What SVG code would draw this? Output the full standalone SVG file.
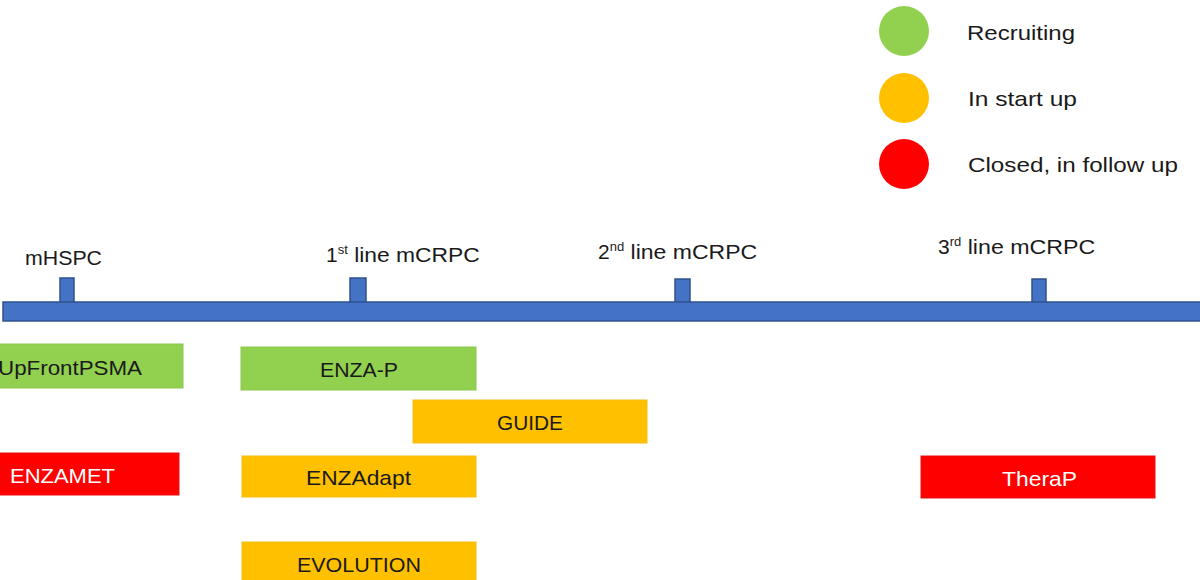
<svg xmlns="http://www.w3.org/2000/svg" width="1200" height="580" viewBox="0 0 1200 580">
<style>
text{font-family:"Liberation Sans","DejaVu Sans",sans-serif;fill:#1a1a1a}
.lbl{font-size:21px}
.leg{font-size:21px}
.box{font-size:21px;text-anchor:middle}
.w{fill:#ffffff}
.g{fill:#92D050;stroke:#8cc84b;stroke-width:1}
.o{fill:#FFC000;stroke:#f5bb10;stroke-width:1}
.r{fill:#FF0000;stroke:#e81010;stroke-width:1}
.ax{fill:#4472C4;stroke:#2F528F;stroke-width:1.5}
</style>
<rect width="1200" height="580" fill="#ffffff"/>
<g id="legend">
<circle cx="904" cy="31" r="25" fill="#92D050"/>
<text class="leg" x="967" y="40" textLength="108" lengthAdjust="spacingAndGlyphs">Recruiting</text>
<circle cx="904" cy="98" r="25" fill="#FFC000"/>
<text class="leg" x="968" y="106" textLength="109" lengthAdjust="spacingAndGlyphs">In start up</text>
<circle cx="904" cy="164" r="25" fill="#FF0000"/>
<text class="leg" x="968" y="172" textLength="210" lengthAdjust="spacingAndGlyphs">Closed, in follow up</text>
</g>
<g id="timeline">
<rect class="ax" x="60" y="278" width="14" height="26"/>
<rect class="ax" x="350" y="278" width="16" height="26"/>
<rect class="ax" x="675" y="279" width="15" height="25"/>
<rect class="ax" x="1032" y="279" width="14" height="25"/>
<rect class="ax" x="3" y="302" width="1200" height="19"/>
</g>
<g id="labels">
<text class="lbl" x="25" y="265" textLength="77" lengthAdjust="spacingAndGlyphs">mHSPC</text>
<text class="lbl" x="326" y="262">1<tspan font-size="13" dy="-8">st</tspan><tspan dy="8" textLength="132" lengthAdjust="spacingAndGlyphs"> line mCRPC</tspan></text>
<text class="lbl" x="598" y="259">2<tspan font-size="13" dy="-8">nd</tspan><tspan dy="8" textLength="133" lengthAdjust="spacingAndGlyphs"> line mCRPC</tspan></text>
<text class="lbl" x="938" y="254">3<tspan font-size="13" dy="-8">rd</tspan><tspan dy="8" textLength="134" lengthAdjust="spacingAndGlyphs"> line mCRPC</tspan></text>
</g>
<g id="upfrontpsma">
<rect class="g" x="-40" y="344" width="223" height="44"/>
<text x="-2" y="375" font-size="21" textLength="144" lengthAdjust="spacingAndGlyphs">UpFrontPSMA</text>
</g>
<g id="enza-p">
<rect class="g" x="241" y="347" width="235" height="43"/>
<text class="box" x="359" y="377" textLength="78" lengthAdjust="spacingAndGlyphs">ENZA-P</text>
</g>
<g id="guide">
<rect class="o" x="413" y="400" width="234" height="43"/>
<text class="box" x="530" y="430" textLength="66" lengthAdjust="spacingAndGlyphs">GUIDE</text>
</g>
<g id="enzamet">
<rect class="r" x="-10" y="453" width="189" height="42"/>
<text class="w" x="10" y="483" font-size="21" textLength="105" lengthAdjust="spacingAndGlyphs">ENZAMET</text>
</g>
<g id="enzadapt">
<rect class="o" x="242" y="456" width="234" height="41"/>
<text class="box" x="358.5" y="485" textLength="105" lengthAdjust="spacingAndGlyphs">ENZAdapt</text>
</g>
<g id="evolution">
<rect class="o" x="242" y="542" width="234" height="50"/>
<text class="box" x="359" y="572" textLength="124" lengthAdjust="spacingAndGlyphs">EVOLUTION</text>
</g>
<g id="therap">
<rect class="r" x="921" y="456" width="234" height="42"/>
<text class="box w" x="1039.5" y="486" textLength="75" lengthAdjust="spacingAndGlyphs">TheraP</text>
</g>
</svg>
